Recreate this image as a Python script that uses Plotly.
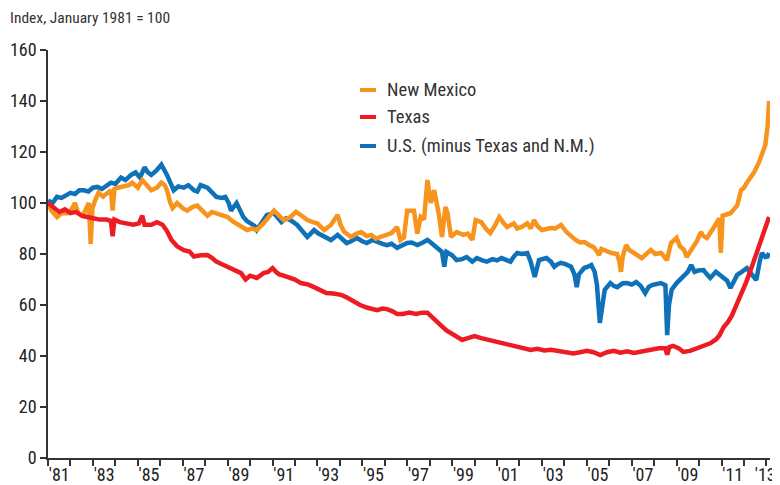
import plotly.graph_objects as go

# ---------------- data ----------------
tx_dates = [1981.0, 1981.25, 1981.5, 1981.75, 1982.0, 1982.25, 1982.5, 1982.75, 1983.0, 1983.3,
            1983.6, 1983.8, 1983.88, 1983.96, 1984.2, 1984.5, 1984.8, 1985.05, 1985.2, 1985.3,
            1985.6, 1985.85, 1986.1, 1986.3, 1986.5, 1986.75, 1987.05, 1987.3, 1987.5, 1987.8,
            1988.1, 1988.3, 1988.5, 1988.75, 1989.0, 1989.3, 1989.6, 1989.8, 1990.0, 1990.3,
            1990.6, 1990.8, 1991.0, 1991.15, 1991.3, 1991.5, 1991.8, 1992.0, 1992.27, 1992.6,
            1992.85, 1993.1, 1993.4, 1993.7, 1994.05, 1994.3, 1994.6, 1994.9, 1995.2, 1995.45,
            1995.65, 1995.9, 1996.1, 1996.35, 1996.55, 1996.8, 1997.08, 1997.4, 1997.65, 1997.9,
            1998.1, 1998.3, 1998.5, 1998.75, 1998.95, 1999.2, 1999.45, 1999.7, 2000.0, 2000.3,
            2000.75, 2001.0, 2001.3, 2001.6, 2001.9, 2002.2, 2002.5, 2002.8, 2003.1, 2003.4,
            2003.7, 2004.0, 2004.4, 2004.7, 2005.0, 2005.3, 2005.6, 2005.9, 2006.2, 2006.5,
            2006.8, 2007.1, 2007.5, 2007.85, 2008.2, 2008.5, 2008.58, 2008.68, 2008.85, 2009.1,
            2009.3, 2009.6, 2009.9, 2010.2, 2010.5, 2010.75, 2010.9, 2011.1, 2011.3, 2011.47,
            2011.7, 2011.87, 2012.1, 2012.3, 2012.5, 2012.75, 2012.95, 2013.12]
tx_values = [100, 98, 96.5, 97.5, 96, 96.5, 95, 94.5, 94, 93.5,
             93.5, 93, 87, 93.5, 92.5, 92, 91.5, 92, 95, 91.5,
             91.5, 92.5, 91.5, 89, 85.5, 83, 81.5, 81, 79, 79.5,
             79.6, 78.5, 77, 76, 75, 73.5, 72.5, 70, 71.5, 70.6,
             72.5, 73, 74.5, 73, 72, 71.5, 70.5, 70, 68.6, 68,
             67, 66, 64.7, 64.5, 64, 63, 61.5, 60, 59, 58.5,
             58, 58.6, 58.4, 57.5, 56.5, 56.5, 57, 56.5, 57, 57,
             55.5, 53.5, 52, 50, 49, 47.5, 46.3, 47, 47.8, 47,
             46, 45.5, 45, 44.3, 43.5, 43, 42.4, 42.8, 42.2, 42.4,
             42, 41.5, 41, 41.5, 42, 41.5, 40.4, 41.5, 42, 41.3,
             41.8, 41.2, 41.8, 42.4, 43, 43, 40.5, 43.5, 44, 43,
             41.6, 42, 43, 44, 45, 46.5, 48, 51.4, 53.5, 56,
             60.5, 64.7, 69, 73.7, 78.5, 85.5, 89.5, 94.5]

nm_dates = [1981.0, 1981.15, 1981.4, 1981.6, 1981.85, 1982.05, 1982.2, 1982.35, 1982.55, 1982.7,
            1982.82, 1982.9, 1982.98, 1983.1, 1983.25, 1983.45, 1983.65, 1983.8, 1983.88, 1983.96,
            1984.1, 1984.4, 1984.6, 1984.75, 1985.0, 1985.2, 1985.4, 1985.6, 1985.85, 1986.05,
            1986.2, 1986.3, 1986.45, 1986.55, 1986.75, 1987.0, 1987.2, 1987.45, 1987.65, 1987.9,
            1988.1, 1988.3, 1988.5, 1988.75, 1989.0, 1989.2, 1989.4, 1989.6, 1989.86, 1990.1,
            1990.3, 1990.6, 1990.85, 1991.07, 1991.3, 1991.5, 1991.8, 1992.05, 1992.3, 1992.55,
            1992.8, 1993.0, 1993.3, 1993.6, 1993.9, 1994.05, 1994.2, 1994.5, 1994.75, 1994.95,
            1995.2, 1995.4, 1995.6, 1995.85, 1996.1, 1996.3, 1996.55, 1996.7, 1996.85, 1997.0,
            1997.3, 1997.45, 1997.6, 1997.75, 1997.9, 1998.05, 1998.2, 1998.4, 1998.55, 1998.7,
            1998.8, 1998.95, 1999.2, 1999.5, 1999.7, 1999.9, 2000.05, 2000.3, 2000.5, 2000.7,
            2000.9, 2001.1, 2001.3, 2001.45, 2001.75, 2001.9, 2002.1, 2002.35, 2002.5, 2002.65,
            2002.8, 2003.0, 2003.2, 2003.4, 2003.6, 2003.85, 2004.1, 2004.3, 2004.5, 2004.7,
            2004.9, 2005.1, 2005.3, 2005.45, 2005.55, 2005.65, 2005.9, 2006.1, 2006.35, 2006.45,
            2006.52, 2006.6, 2006.75, 2006.9, 2007.1, 2007.3, 2007.45, 2007.65, 2007.85, 2008.05,
            2008.3, 2008.45, 2008.57, 2008.75, 2009.0, 2009.15, 2009.33, 2009.45, 2009.6, 2009.77,
            2009.9, 2010.08, 2010.2, 2010.35, 2010.5, 2010.67, 2010.9, 2010.97, 2011.05, 2011.2,
            2011.4, 2011.55, 2011.7, 2011.87, 2012.0, 2012.13, 2012.3, 2012.45, 2012.67, 2012.85,
            2012.95, 2013.05, 2013.12]
nm_values = [100, 97, 94.5, 96, 96, 97.5, 100, 96, 95, 98,
             100, 84, 98, 101, 104, 102.5, 104, 105, 97, 105.5,
             106, 106.5, 107, 108, 106, 109, 107, 105, 106, 108,
             107, 105, 100, 98, 100, 98, 97, 98.5, 99, 97,
             95, 96.5, 96, 95, 94.5, 93, 92, 90.5, 89.4, 90,
             89.4, 92, 94.5, 97, 95, 93.3, 94.5, 96.5, 95, 93.3,
             92.5, 92, 89.4, 91.4, 95.3, 91, 88.6, 86.7, 88, 88.6,
             87, 87.5, 86, 86.7, 87.5, 88.2, 90.6, 85.5, 86.5, 97,
             97, 88, 94.5, 93.5, 109, 100, 105, 96, 86.7, 98.4,
             96, 86.7, 88.6, 87.5, 88, 85.5, 93.3, 92.5, 90, 88.2,
             91, 94.5, 92, 90.6, 92, 90, 90.6, 92, 90, 93.3,
             91, 89.4, 89.8, 90.2, 90, 91.4, 88.6, 87, 85.5, 84.5,
             84.7, 83.5, 82.7, 81, 79.6, 82, 81, 80.4, 80, 77,
             73, 79, 83.5, 81.5, 80.4, 79.5, 78.4, 80, 81.6, 80,
             80.4, 79, 77.6, 84.3, 86.3, 83, 81.6, 78.8, 81, 83.5,
             85, 88.6, 87, 86.3, 88, 90.6, 94, 80.4, 95, 95.3,
             96, 97.5, 99, 105, 106, 108, 110, 112, 116, 120,
             122.7, 130, 140]

us_dates = [1981.0, 1981.2, 1981.4, 1981.6, 1981.8, 1982.0, 1982.2, 1982.4, 1982.6, 1982.8,
            1983.0, 1983.2, 1983.4, 1983.6, 1983.8, 1984.0, 1984.25, 1984.45, 1984.7, 1984.9,
            1985.1, 1985.3, 1985.45, 1985.6, 1985.8, 1986.05, 1986.2, 1986.3, 1986.45, 1986.6,
            1986.8, 1987.05, 1987.25, 1987.5, 1987.65, 1987.8, 1988.1, 1988.3, 1988.5, 1988.75,
            1988.9, 1989.05, 1989.15, 1989.4, 1989.55, 1989.7, 1989.85, 1990.05, 1990.2, 1990.3,
            1990.5, 1990.75, 1991.07, 1991.25, 1991.4, 1991.6, 1991.8, 1992.1, 1992.3, 1992.55,
            1992.7, 1992.85, 1993.05, 1993.3, 1993.6, 1993.9, 1994.1, 1994.3, 1994.5, 1994.75,
            1995.0, 1995.2, 1995.45, 1995.65, 1995.9, 1996.1, 1996.3, 1996.55, 1996.8, 1997.0,
            1997.2, 1997.45, 1997.7, 1997.9, 1998.05, 1998.2, 1998.4, 1998.55, 1998.65, 1998.75,
            1999.0, 1999.2, 1999.45, 1999.65, 1999.9, 2000.1, 2000.35, 2000.55, 2000.8, 2001.0,
            2001.2, 2001.4, 2001.6, 2001.75, 2001.9, 2002.1, 2002.35, 2002.5, 2002.6, 2002.68,
            2002.87, 2003.0, 2003.2, 2003.4, 2003.55, 2003.7, 2003.85, 2004.05, 2004.3, 2004.45,
            2004.55, 2004.65, 2004.88, 2005.05, 2005.2, 2005.35, 2005.45, 2005.58, 2005.7, 2005.8,
            2006.05, 2006.2, 2006.35, 2006.6, 2006.8, 2007.0, 2007.2, 2007.4, 2007.6, 2007.75,
            2007.9, 2008.1, 2008.3, 2008.5, 2008.58, 2008.66, 2008.78, 2009.0, 2009.15, 2009.33,
            2009.5, 2009.65, 2009.8, 2009.95, 2010.2, 2010.35, 2010.5, 2010.75, 2010.9, 2011.1,
            2011.25, 2011.4, 2011.55, 2011.7, 2011.9, 2012.13, 2012.3, 2012.45, 2012.55, 2012.7,
            2012.8, 2012.95, 2013.05, 2013.12]
us_values = [101, 100, 102.4, 102, 103, 104, 103.5, 105, 105, 104.5,
             106, 106.3, 105.5, 107, 108, 107.5, 110, 109, 111, 112,
             110, 114, 112, 111, 112.5, 115, 113, 111, 108, 105,
             106.5, 106, 107, 105, 104.5, 107, 106, 104, 102.4, 102,
             102.4, 100, 97, 100, 97, 94.5, 93, 92, 91, 89.4,
             92, 95.3, 96, 94, 92.5, 94, 93.3, 91.4, 89, 86.7,
             88, 89.4, 88, 86.7, 85.5, 87.5, 86, 84.3, 85, 86.3,
             85, 84.3, 85.5, 84.7, 84, 83.5, 84, 82.4, 83.5, 84.3,
             84.5, 83.5, 84.5, 85.5, 84.5, 83.5, 82, 80.8, 75, 80.8,
             79.5, 77.6, 78, 78.8, 77, 78.4, 77.5, 77, 78, 77.5,
             78.4, 77.5, 77, 79, 80.4, 80, 80.4, 77, 73, 71,
             77.6, 78, 78.4, 77, 75, 76, 76.5, 76, 75, 72,
             67, 72, 74.5, 75, 75.7, 73, 68, 53, 62, 66,
             68.6, 67.5, 67, 68.5, 68.6, 68, 69, 67.5, 64.7, 67,
             67.8, 68, 68.6, 67.8, 48.2, 60, 66, 68.6, 70, 71.8,
             73, 75.7, 73, 73.5, 73.7, 72, 70.6, 73, 72, 70.6,
             69.5, 66.7, 69, 71.8, 73, 74.5, 72.5, 71, 69.8, 77,
             80.4, 78.8, 79, 80.4]

series_names = ["New Mexico", "Texas", "U.S. (minus Texas and N.M.)"]
series_colors = ["#F7941D", "#ED1C24", "#0F71B8"]

y_ticks = [0, 20, 40, 60, 80, 100, 120, 140, 160]
year_label_pos = [1981.5, 1983.5, 1985.5, 1987.5, 1989.5, 1991.5, 1993.5, 1995.5, 1997.5,
                  1999.5, 2001.5, 2003.5, 2005.5, 2007.5, 2009.5, 2011.5, 2012.95]
year_labels = ["'81", "'83", "'85", "'87", "'89", "'91", "'93", "'95", "'97",
               "'99", "'01", "'03", "'05", "'07", "'09", "'11", "'13"]
year_ticks = list(range(1981, 2014))

FONT = "Liberation Sans Narrow, Arial Narrow, Roboto Condensed, Liberation Sans, sans-serif"

# ---------------- figure ----------------
# The page body adds an 8px offset, so the figure is 8px smaller and all
# target pixel positions (page coordinates) are shifted by OFF.
OFF = 8
W, H = 780 - OFF, 485 - OFF
ML, MR, MT, MB = 48 - OFF, 10, 50 - OFF, 27

fig = go.Figure()
order = [2, 0, 1]  # draw U.S. first, then New Mexico, then Texas on top
all_x = [nm_dates, tx_dates, us_dates]
all_y = [nm_values, tx_values, us_values]
for i in order:
    fig.add_trace(go.Scatter(x=all_x[i], y=all_y[i], mode="lines", name=series_names[i],
                             line=dict(color=series_colors[i], width=4.5), showlegend=False))


def px_x(p):
    return (p - OFF - ML) / (W - ML - MR)


def px_y(p):
    return 1 - (p - OFF - MT) / (H - MT - MB)


shapes = []
annotations = []
# legend drawn by hand (short swatches as in the reference)
leg_y = [90, 117, 146]
for name, color, yy in zip(series_names, series_colors, leg_y):
    shapes.append(dict(type="line", xref="paper", yref="paper",
                       x0=px_x(360), x1=px_x(376), y0=px_y(yy), y1=px_y(yy),
                       line=dict(color=color, width=4)))
    annotations.append(dict(text=name, xref="paper", yref="paper",
                            x=px_x(385), y=px_y(yy), xanchor="left", yanchor="middle",
                            showarrow=False, font=dict(family=FONT, size=18.5, color="#333333")))

annotations.append(dict(text="Index, January 1981 = 100", xref="paper", yref="paper",
                        x=px_x(8), y=px_y(18), xanchor="left", yanchor="middle",
                        showarrow=False, font=dict(family=FONT, size=15.5, color="#333333")))

fig.update_layout(
    width=W, height=H,
    margin=dict(l=ML, r=MR, t=MT, b=MB, autoexpand=False),
    plot_bgcolor="white", paper_bgcolor="white",
    font=dict(family=FONT, size=18, color="#222222"),
    shapes=shapes, annotations=annotations,
    xaxis=dict(range=[1981.0, 2013.16], showgrid=False, zeroline=False, automargin=False,
               showline=True, linecolor="#333333", linewidth=1.5,
               tickmode="array", tickvals=year_label_pos, ticktext=year_labels,
               ticks="", tickfont=dict(size=18),
               minor=dict(tickmode="array", tickvals=year_ticks, ticks="outside",
                          ticklen=6, tickwidth=1.5, tickcolor="#333333", showgrid=False)),
    yaxis=dict(range=[0, 160], showgrid=False, zeroline=False, automargin=False,
               showline=True, linecolor="#333333", linewidth=1.5,
               tickmode="array", tickvals=y_ticks, ticks="outside",
               ticklen=6, tickwidth=1.5, tickcolor="#333333", tickfont=dict(size=18)),
)

fig.write_html("out.html")
